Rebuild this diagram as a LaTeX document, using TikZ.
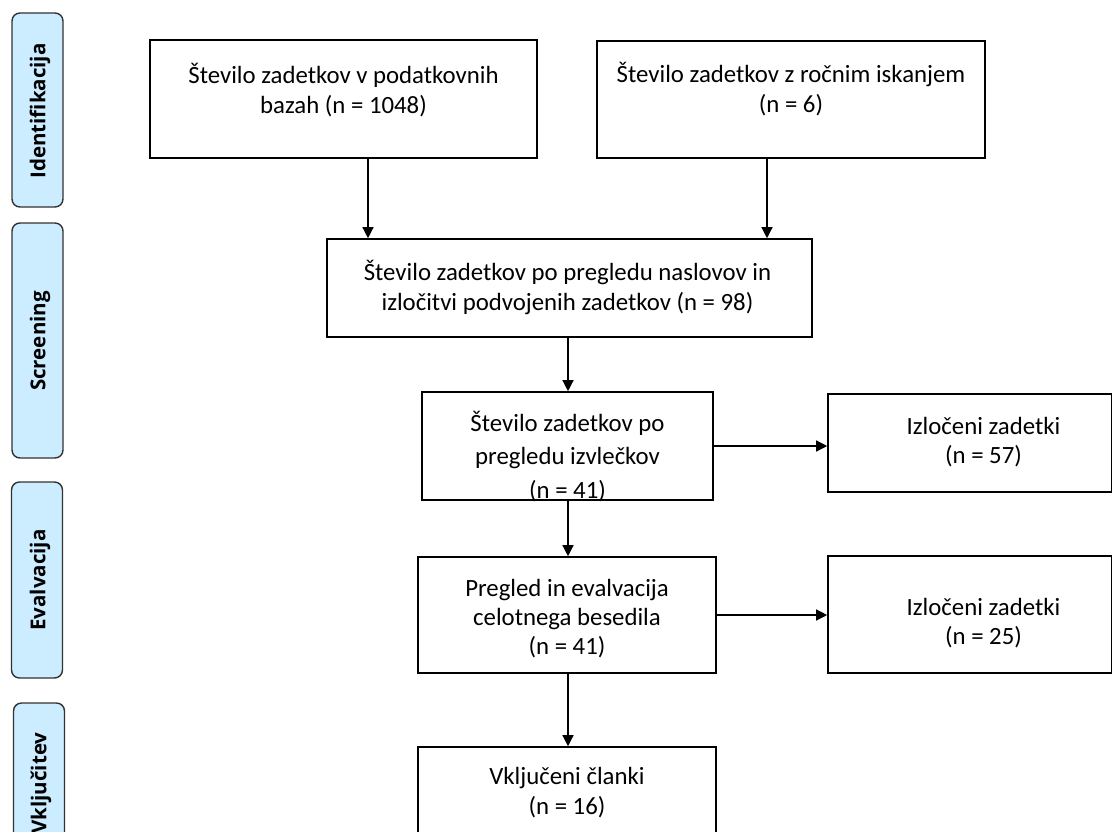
\documentclass[tikz,border=0pt]{standalone}
\usepackage{fontspec}
\setmainfont{Carlito}
\newfontfamily\tabfont{Open Sans}
\usetikzlibrary{arrows.meta,calc}
\definecolor{tabfill}{RGB}{204,236,255}
\definecolor{tabline}{RGB}{50,50,50}
\tikzset{
  boxnode/.style={draw=black, line width=1.6pt, fill=white, inner sep=0pt},
  txt/.style={align=center, font=\fontsize{24.8}{30.5}\selectfont, inner sep=0pt},
  tabnode/.style={draw=tabline, fill=tabfill, line width=1.4pt, rounded corners=8pt, inner sep=0pt, minimum width=51pt},
  tabtxt/.style={rotate=90, font=\tabfont\bfseries\fontsize{20.5}{24}\selectfont, inner sep=0pt},
  arr/.style={line width=1.3pt, -{Triangle[length=11pt,width=11pt]}}
}
\begin{document}
\begin{tikzpicture}[x=1pt,y=-1pt]
\useasboundingbox (0,0) rectangle (1114,831);
% side tabs
\node[tabnode, minimum height=194pt] (t1) at (37.5,110) {};
\node[tabtxt] (t1l) at (40,111) {Identifikacija};
\node[tabnode, minimum height=235pt] (t2) at (37.5,340.5) {};
\node[tabtxt] (t2l) at (40,341) {Screening};
\node[tabnode, minimum height=196pt] (t3) at (37,580) {};
\node[tabtxt] (t3l) at (40,580) {Evalvacija};
\node[tabnode, minimum height=160pt] (t4) at (39,783) {};
\node[tabtxt] (t4l) at (41,783) {Vključitev};
% boxes
\node[boxnode, minimum width=387pt, minimum height=118pt] (b1) at (343.5,99) {};
\node[txt] (b1t) at (343.5,90) {Število zadetkov v podatkovnih\\bazah (n = 1048)};
\node[boxnode, minimum width=388pt, minimum height=117pt] (b2) at (791,99.5) {};
\node[txt] (b2t) at (791,89) {Število zadetkov z ročnim iskanjem\\(n = 6)};
\node[boxnode, minimum width=485pt, minimum height=98pt] (b3) at (569.5,288) {};
\node[txt] (b3t) at (567.5,287.5) {Število zadetkov po pregledu naslovov in\\izločitvi podvojenih zadetkov (n = 98)};
\node[boxnode, minimum width=291pt, minimum height=108pt] (b4) at (567.5,446) {};
\node[txt, font=\fontsize{24.8}{33.5}\selectfont] (b4t) at (567.5,456.5) {Število zadetkov po\\pregledu izvlečkov\\(n = 41)};
\node[boxnode, minimum width=283.5pt, minimum height=98pt] (b5) at (969.75,443) {};
\node[txt, font=\fontsize{24.8}{29}\selectfont] (b5t) at (983.5,442.5) {Izločeni zadetki\\(n = 57)};
\node[boxnode, minimum width=298pt, minimum height=116pt] (b6) at (567,615) {};
\node[txt, font=\fontsize{24.8}{29}\selectfont] (b6t) at (567,619) {Pregled in evalvacija\\celotnega besedila\\(n = 41)};
\node[boxnode, minimum width=283.5pt, minimum height=117pt] (b7) at (969.75,614.5) {};
\node[txt, font=\fontsize{24.8}{29}\selectfont] (b7t) at (983.5,623.5) {Izločeni zadetki\\(n = 25)};
\node[boxnode, minimum width=298pt, minimum height=110pt] (b8) at (567,802) {};
\node[txt, font=\fontsize{24.8}{30}\selectfont] (b8t) at (567,793) {Vključeni članki\\(n = 16)};
% connectors
\coordinate (c1) at (368,0);
\coordinate (c2) at (767,0);
\coordinate (c3) at (568,0);
\draw[arr] (b1.south -| c1) -- (b3.north -| c1);
\draw[arr] (b2.south -| c2) -- (b3.north -| c2);
\draw[arr] (b3.south -| c3) -- (b4.north -| c3);
\draw[arr] (b4.east) -- (b4.east -| b5.west);
\draw[arr] (b4.south -| c3) -- (b6.north -| c3);
\draw[arr] (b6.east) -- (b6.east -| b7.west);
\draw[arr] (b6.south -| c3) -- (b8.north -| c3);
\end{tikzpicture}
\end{document}
